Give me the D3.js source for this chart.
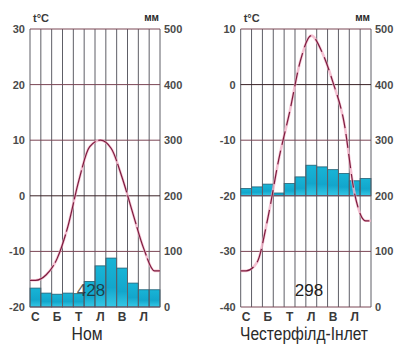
<!DOCTYPE html>
<html><head><meta charset="utf-8">
<script src="https://cdn.jsdelivr.net/npm/d3@7"></script>
<style>body{margin:0;background:#fff}svg{display:block}</style></head>
<body><svg id="c" width="399" height="346"></svg>
<script>
// ---- data ----
const months = ["С","Л","Б","К","Т","Ч","Л","С","В","Ж","Л","Г"];
const nomeTemp   = [-15.2,-14.2,-11.3,-5.5,2.7,8.8,10,8.5,3.3,-3.2,-9.5,-13.5];
const nomePrecip = [34,25,23,25,24,46,74,88,70,43,31,31];
const chesTemp   = [-33.5,-32,-24,-13.5,-5,4.3,8.8,5.8,0.4,-6.6,-19.7,-24.5];
const chesPrecip = [13,16,21,5,22,34,55,52,47,40,27,31];
const nomeTempTicks = [30,20,10,0,-10,-20];
const chesTempTicks = [10,0,-10,-20,-30,-40];
const precipTicks   = [500,400,300,200,100,0];
const nomeName = "Ном", chesName = "Честерфілд-Інлет";
const nomeTotal = "428", chesTotal = "298";
const nomeBarBase = 0, chesBarBase = 200;   // precipitation value where bars start
const tempUnit = "t°C", precipUnit = "мм";

const svg = d3.select("#c");
const defs = svg.append("defs");
const g = defs.append("linearGradient").attr("id","cy").attr("x1",0).attr("y1",0).attr("x2",0).attr("y2",1);
g.append("stop").attr("offset","0%").attr("stop-color","#18b4d6");
g.append("stop").attr("offset","60%").attr("stop-color","#12a6cc");
g.append("stop").attr("offset","100%").attr("stop-color","#35c8e6");

const FONT = "'Liberation Sans', Arial, sans-serif";
const NARROW = "'Liberation Sans Narrow', 'Liberation Sans', Arial, sans-serif";

function chart(o){
  const top = 29, bot = 307;
  const x = d3.scaleBand().domain(d3.range(12)).range([o.x0,o.x1]).padding(0);
  const yT = d3.scaleLinear().domain([o.tTicks[0], o.tTicks[o.tTicks.length-1]]).range([top,bot]);
  const yP = d3.scaleLinear().domain([500,0]).range([top,bot]);
  const root = svg.append("g");

  // bars
  root.selectAll("rect.bar").data(o.precip).enter().append("rect")
    .attr("x",(d,i)=>x(i)).attr("width",x.bandwidth())
    .attr("y",d=>yP(o.base+d)).attr("height",d=>yP(o.base)-yP(o.base+d))
    .attr("fill","url(#cy)").attr("stroke","#1d5f74").attr("stroke-width",0.8);

  // vertical grid
  root.selectAll("line.v").data(d3.range(13)).enter().append("line")
    .attr("x1",i=>i<12?x(i):o.x1).attr("x2",i=>i<12?x(i):o.x1)
    .attr("y1",top).attr("y2",bot).attr("stroke","#5e5e66").attr("stroke-width",1);
  // horizontal grid
  root.selectAll("line.h").data(o.tTicks).enter().append("line")
    .attr("x1",o.x0).attr("x2",o.x1).attr("y1",d=>yT(d)).attr("y2",d=>yT(d))
    .attr("stroke",d=>d===0?"#3a2226":"#7a4654").attr("stroke-width",1);

  // total label
  root.append("text").attr("x",o.totX).attr("y",296).attr("text-anchor","middle")
    .attr("font-family",FONT).attr("font-size",17).attr("fill","#1e1e1e").attr("fill-opacity",o.totOp).text(o.total);

  // temperature curve
  const pts = o.temp.map((t,i)=>[x(i)+x.bandwidth()/2, yT(t)]);
  pts.unshift([o.x0, yT(o.temp[0])]);
  pts.push([o.x1, yT(o.temp[11])]);
  const line = d3.line().curve(d3.curveMonotoneX);
  root.append("path").attr("d",line(pts)).attr("fill","none")
    .attr("stroke","#f3b3c8").attr("stroke-width",2.6).attr("stroke-opacity",0.8);
  root.append("path").attr("d",line(pts)).attr("fill","none")
    .attr("stroke","#7c1c3e").attr("stroke-width",1.2).attr("stroke-dasharray",o.dash);

  // axes
  const la = d3.axisLeft(yT).tickValues(o.tTicks).tickSize(0).tickPadding(5).tickFormat(d=>String(d));
  const ga = root.append("g").attr("transform",`translate(${o.x0},0)`).call(la);
  const ra = d3.axisRight(yP).tickValues(precipTicks).tickSize(0).tickPadding(4).tickFormat(d=>String(d));
  const gb = root.append("g").attr("transform",`translate(${o.x1},0)`).call(ra);
  [ga,gb].forEach(a=>{a.select(".domain").remove();
    a.selectAll("text").attr("font-family",FONT).attr("font-size",11).attr("font-weight","bold").attr("fill","#4a4a4a");});

  // month labels
  root.selectAll("text.m").data(months).enter().filter((d,i)=>i%2===0).append("text")
    .attr("x",(d,i)=>x(i*2)+x.bandwidth()/2).attr("y",321).attr("text-anchor","middle")
    .attr("font-family",FONT).attr("font-size",12).attr("font-weight","bold").attr("fill","#3a3a3a").text(d=>d);

  // units
  root.append("text").attr("x",o.x0+3).attr("y",22).attr("font-family",FONT).attr("font-size",11)
    .attr("font-weight","bold").attr("fill","#3a3a3a").text(tempUnit);
  root.append("text").attr("x",o.x1-1).attr("y",21).attr("text-anchor","end").attr("font-family",FONT).attr("font-size",10)
    .attr("font-weight","bold").attr("fill","#2a2a2a").text(precipUnit);

  // name
  const nt = root.append("text").attr("x",o.nameX).attr("y",340).attr("text-anchor","middle")
    .attr("font-family",NARROW).attr("font-size",18).attr("fill","#2a2a2a").text(o.name);
  if(o.nameW) nt.attr("textLength",o.nameW).attr("lengthAdjust","spacingAndGlyphs");
}

chart({x0:30,x1:160,tTicks:nomeTempTicks,temp:nomeTemp,precip:nomePrecip,base:nomeBarBase,
  total:nomeTotal,totX:91,totOp:0.75,name:nomeName,nameX:87,nameW:31,dash:"30,3"});
chart({x0:240.7,x1:371,tTicks:chesTempTicks,temp:chesTemp,precip:chesPrecip,base:chesBarBase,
  total:chesTotal,totX:309,totOp:1,name:chesName,nameX:304,nameW:128,dash:"14,6"});
</script></body></html>
